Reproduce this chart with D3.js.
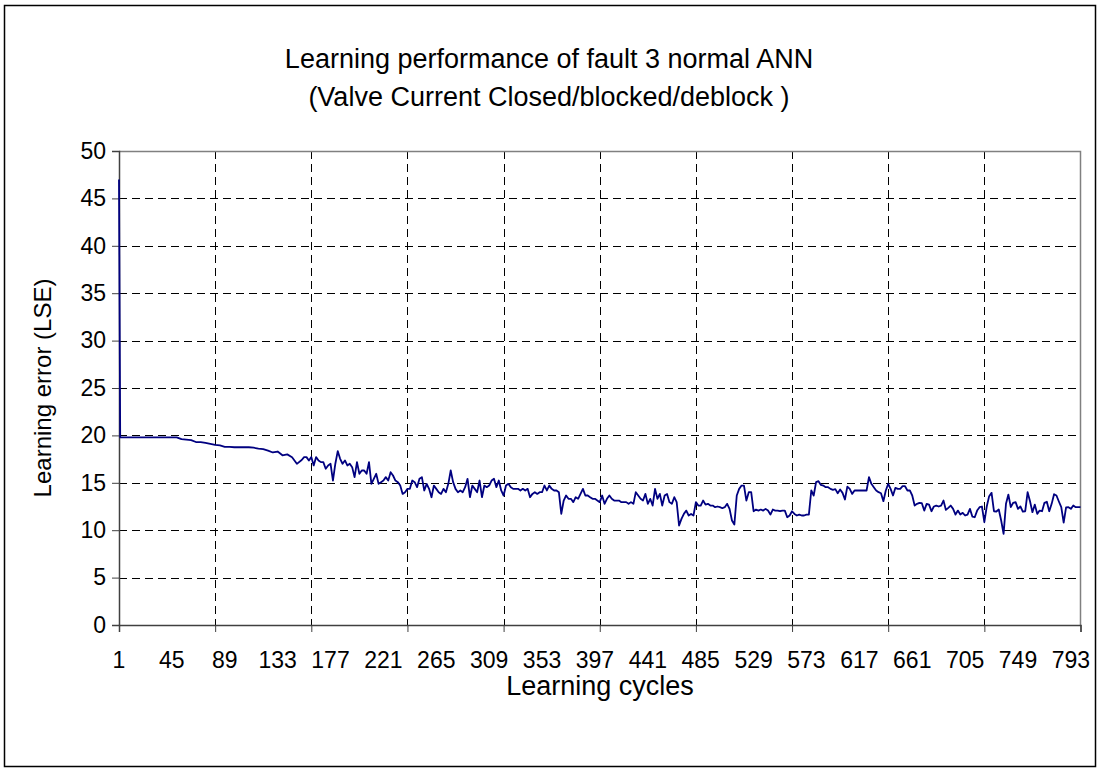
<!DOCTYPE html>
<html>
<head>
<meta charset="utf-8">
<script src="https://cdn.jsdelivr.net/npm/d3@7"></script>
<style>
    html, body { margin: 0; padding: 0; background: #fff; }
    svg { display: block; font-family: "Liberation Sans", Arial, sans-serif; }
</style>
</head>
<body>
<svg id="chart" width="1099" height="772"></svg>
<script>
// Learning error (LSE).
// cycles 1 and 2, then every 4th cycle from 5 to 153, then every 2nd cycle from 155 to 801
const startCycles = [1, 2];
const startValues = [47, 19.8];

const earlyFrom = 5, earlyStep = 4;
const earlyLse = [
    19.8, 19.8, 19.8, 19.8, 19.8, 19.8, 19.8, 19.8, 19.8, 19.8, 19.8, 19.8,
    19.6, 19.55, 19.5, 19.3, 19.3, 19.2, 19.1, 19.0, 18.95, 18.8,
    18.8, 18.75, 18.75, 18.75, 18.75, 18.7, 18.6, 18.55, 18.4, 18.2,
    18.3, 17.9, 18.0, 17.7, 17.0, 17.4
];

const lateFrom = 155, lateStep = 2;
const lateLse = [
    17.71, 17.71, 17.36, 17.71, 16.83, 17.71, 17.36, 17.18, 17.18, 16.48,
    16.83, 17.01, 15.24, 17.01, 18.34, 17.53, 17.01, 17.36, 16.83, 17.01,
    16.65, 15.60, 17.18, 15.95, 16.30, 16.30, 15.95, 17.18, 14.89, 15.42,
    15.95, 14.89, 15.07, 15.24, 15.60, 15.24, 16.12, 15.77, 15.24, 15.07,
    14.71, 13.83, 14.01, 14.36, 14.36, 15.24, 15.07, 14.54, 15.42, 15.60,
    14.19, 14.89, 14.36, 13.48, 14.71, 14.36, 14.01, 13.83, 14.36, 14.01,
    14.89, 16.30, 15.07, 14.36, 14.01, 14.19, 14.01, 14.54, 15.42, 13.48,
    14.71, 14.36, 14.01, 15.24, 13.48, 14.71, 14.54, 14.71, 15.24, 15.42,
    14.54, 15.24,
    14.19, 13.66, 14.71, 14.89, 14.54, 14.36, 14.36, 14.36, 14.19, 14.36,
    14.19, 14.36, 13.48, 13.83, 14.01, 13.83, 14.01, 14.01, 14.71, 14.19,
    14.71, 14.36, 14.19, 14.19, 14.01, 11.72, 13.13, 13.66, 13.31, 13.31,
    12.96, 13.48, 13.31, 13.83, 14.36, 13.66, 13.66, 13.48, 13.31, 13.31,
    13.13, 12.96, 13.66, 12.78, 13.31, 13.66, 13.31, 13.13, 13.13, 13.13,
    12.96, 12.96, 12.96, 12.78, 12.96, 12.78, 14.01, 13.66, 13.31, 13.13,
    13.83, 12.78, 13.31, 12.60, 14.36, 13.31, 13.83, 12.60, 13.66, 13.83,
    12.96, 12.78, 13.48, 12.96, 10.49, 11.19, 11.72, 12.07, 11.55,
    11.72, 11.55, 12.96, 12.60, 12.60, 13.13, 12.70, 12.78, 12.60, 12.60,
    12.43, 12.50, 12.43, 12.32, 12.43, 12.78, 12.25, 11.02, 10.60, 13.66,
    14.36, 14.71, 14.71, 13.13, 14.01, 14.01, 12.00, 12.18, 12.07, 12.18,
    12.07, 12.25, 12.07, 11.65, 12.18, 12.07, 12.07, 12.00, 12.07, 12.07,
    11.37, 11.55, 12.00, 11.72, 11.55, 11.65, 11.55, 11.55, 11.65, 11.65,
    14.19, 13.66, 15.07, 15.17, 14.78, 14.71, 14.54, 14.54, 14.36, 14.26,
    14.33, 13.90, 14.29, 13.94, 13.24, 14.60, 14.36, 13.83, 14.19, 14.19,
    14.19, 14.19, 14.19, 14.19, 15.60, 14.89, 14.54, 14.19,
    14.01, 13.90, 13.06, 14.19, 14.89, 14.36, 13.66, 14.47, 14.36, 14.36,
    14.64, 14.64, 14.19, 14.19, 13.66, 12.60, 12.78, 12.89, 12.85, 12.07,
    12.78, 12.70, 12.00, 12.50, 12.60, 12.50, 12.60, 13.13, 12.14, 12.36,
    12.60, 12.25, 11.65, 12.07, 11.65, 11.83, 11.55, 11.65, 12.25, 11.44,
    11.37, 12.07, 12.43, 12.50, 10.84, 12.50, 13.59, 13.94, 12.00, 11.97,
    12.18, 11.02, 9.61, 12.78, 13.76, 12.43, 12.89, 12.96, 12.25, 12.50,
    11.97, 12.00, 14.01, 13.06, 11.90, 12.70, 11.72, 12.07, 12.00, 12.89,
    13.00, 12.00, 12.78, 13.80, 13.66, 13.03, 12.43, 10.80, 12.40, 12.43,
    12.25, 12.60, 12.43, 12.43, 12.43
];

const cycleDomain = [1, 801];
const gridCycles = [1, 81, 161, 241, 321, 401, 481, 561, 641, 721, 801];
const cycleLabels = [1, 45, 89, 133, 177, 221, 265, 309, 353, 397, 441, 485, 529, 573, 617, 661, 705, 749, 793];
const yTicks = [0, 5, 10, 15, 20, 25, 30, 35, 40, 45, 50];

const titleLines = ['Learning performance of fault 3 normal ANN', '(Valve Current Closed/blocked/deblock )'];
const xTitle = 'Learning cycles';
const yTitle = 'Learning error (LSE)';

// build points
const points = startCycles.map((c, i) => ({ cycle: c, lse: startValues[i] }))
    .concat(earlyLse.map((v, i) => ({ cycle: earlyFrom + i * earlyStep, lse: v })))
    .concat(lateLse.map((v, i) => ({ cycle: lateFrom + i * lateStep, lse: v })));

const plot = { left: 119, right: 1080.5, top: 151, bottom: 625 };

const svg = d3.select('#chart');

// outer frame
svg.append('rect')
    .attr('x', 4.5).attr('y', 5.5).attr('width', 1091).attr('height', 761)
    .attr('fill', '#fff').attr('stroke', '#000').attr('stroke-width', 1.5);

const x = d3.scaleLinear().domain(cycleDomain).range([plot.left, plot.right]);
const y = d3.scaleLinear().domain([0, 50]).range([plot.bottom, plot.top]);

// horizontal gridlines
svg.append('g').selectAll('line').data(yTicks.filter(d => d > 0 && d < 50)).enter().append('line')
    .attr('x1', plot.left).attr('x2', plot.right)
    .attr('y1', d => Math.round(y(d)) + 0.5).attr('y2', d => Math.round(y(d)) + 0.5)
    .attr('stroke', '#000').attr('stroke-width', 1).attr('stroke-dasharray', '8,5');

// vertical gridlines
svg.append('g').selectAll('line').data(gridCycles.slice(1, -1)).enter().append('line')
    .attr('x1', d => Math.round(x(d)) + 0.5).attr('x2', d => Math.round(x(d)) + 0.5)
    .attr('y1', plot.top).attr('y2', plot.bottom)
    .attr('stroke', '#000').attr('stroke-width', 1).attr('stroke-dasharray', '8,5');

// plot area border (top & right)
svg.append('path')
    .attr('d', `M${plot.left},${plot.top + 0.5}H${plot.right}V${plot.bottom}`)
    .attr('fill', 'none').attr('stroke', '#808080').attr('stroke-width', 1.5);

// y axis
const yAxis = d3.axisLeft(y).tickValues(yTicks).tickSize(7).tickPadding(6).tickFormat(d3.format('d'));
const gy = svg.append('g').attr('transform', `translate(${plot.left},0)`).call(yAxis);
gy.select('.domain').attr('stroke', '#404040').attr('stroke-width', 1.5);
gy.selectAll('.tick line').attr('stroke', '#404040');
gy.selectAll('.tick text').attr('font-size', 23).attr('font-family', '"Liberation Sans", Arial, sans-serif').attr('fill', '#000');

// x axis: ticks on gridlines, labels every 44 cycles
const xAxis = d3.axisBottom(x).tickValues(gridCycles).tickSize(7).tickFormat('');
const gx = svg.append('g').attr('transform', `translate(0,${plot.bottom})`).call(xAxis);
gx.select('.domain').attr('stroke', '#404040').attr('stroke-width', 1.5);
gx.selectAll('.tick line').attr('stroke', '#404040');

svg.append('g').selectAll('text').data(cycleLabels).enter().append('text')
    .attr('x', d => x(d)).attr('y', plot.bottom + 43)
    .attr('text-anchor', 'middle').attr('font-size', 23).attr('fill', '#000')
    .text(d => d);

// series
const line = d3.line().x(d => x(d.cycle)).y(d => y(d.lse));
svg.append('path').datum(points)
    .attr('fill', 'none').attr('stroke', '#000080').attr('stroke-width', 1.8)
    .attr('stroke-linejoin', 'round').attr('d', line);

// titles
svg.append('g').selectAll('text').data(titleLines).enter().append('text')
    .attr('x', 549).attr('y', (d, i) => 68 + i * 38)
    .attr('text-anchor', 'middle').attr('font-size', 27).attr('fill', '#000')
    .text(d => d);

svg.append('text')
    .attr('x', 600).attr('y', 695)
    .attr('text-anchor', 'middle').attr('font-size', 27).attr('fill', '#000')
    .text(xTitle);

svg.append('text')
    .attr('transform', `translate(51,${(plot.top + plot.bottom) / 2}) rotate(-90)`)
    .attr('text-anchor', 'middle').attr('font-size', 24).attr('fill', '#000')
    .text(yTitle);
</script>
</body>
</html>
